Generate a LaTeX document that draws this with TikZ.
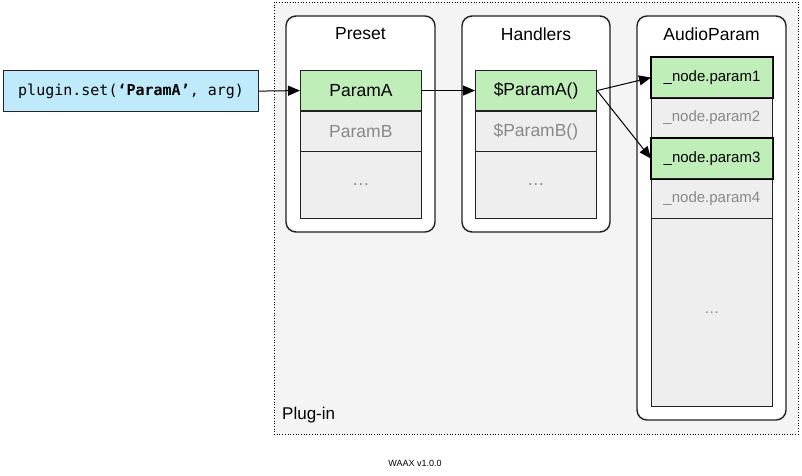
\documentclass[tikz,border=0pt]{standalone}
\usepackage{fontspec}
\setmainfont{Liberation Sans}
\newfontfamily\codefont{DejaVu Sans Mono}
\usetikzlibrary{arrows.meta}
\definecolor{plugfill}{HTML}{F4F4F4}
\definecolor{rowfill}{HTML}{EEEEEE}
\definecolor{greenfill}{HTML}{C0EEB8}
\definecolor{bluefill}{HTML}{BFEAFC}
\definecolor{graytext}{HTML}{888888}
\definecolor{linec}{HTML}{222222}
\tikzset{
  container/.style={draw=linec, line width=1.4pt, fill=white, rounded corners=10pt},
  rowbox/.style={draw=linec, line width=0.7pt, fill=rowfill, minimum width=121pt, minimum height=40pt, inner sep=0pt, font=\fontsize{17.5}{20}\selectfont, text=graytext, anchor=north west},
  activebox/.style={rowbox, fill=greenfill, line width=1.1pt, text=black},
  smallrow/.style={font=\fontsize{15}{18}\selectfont},
  title/.style={font=\fontsize{17.5}{20}\selectfont, text=black},
  conn/.style={draw=black, line width=1pt, -{Triangle[length=12pt,width=10pt]}},
}
\begin{document}
\begin{tikzpicture}[x=1pt,y=-1pt]
\useasboundingbox (0,0) rectangle (802,475);
% plug-in frame
\draw[dotted, line width=0.7pt, fill=plugfill] (274,2) rectangle (798,434);
\node[anchor=south west, inner sep=0pt, font=\fontsize{17}{20}\selectfont] (plugin) at (282,423) {Plug-in};
% containers
\draw[container] (286,16) rectangle (435,232);
\draw[container] (462,16) rectangle (610,232);
\draw[container] (637,16) rectangle (786,420);
\node[title] (tpreset) at (360.5,34) {Preset};
\node[title] (thandlers) at (536,34) {Handlers};
\node[title] (taudio) at (711.5,34) {AudioParam};
% preset rows
\node[activebox] (pA) at (300,70) {ParamA};
\node[rowbox] (pB) at (300,111) {ParamB};
\node[rowbox, minimum height=67pt] (pC) at (300,151) {\ldots};
% handler rows
\node[activebox] (hA) at (475,70) {\$ParamA()};
\node[rowbox] (hB) at (475,111) {\$ParamB()};
\node[rowbox, minimum height=67pt] (hC) at (475,151) {\ldots};
% audio param rows
\node[activebox, smallrow] (a1) at (651,57) {\_node.param1};
\node[rowbox, smallrow] (a2) at (651,97) {\_node.param2};
\node[activebox, smallrow] (a3) at (651,138) {\_node.param3};
\node[rowbox, smallrow] (a4) at (651,178) {\_node.param4};
\node[rowbox, smallrow, minimum height=188pt] (a5) at (651,218) {\ldots};
\draw[line width=1.1pt] (a1.north west) rectangle (a1.south east);
\draw[line width=1.1pt] (a3.north west) rectangle (a3.south east);
% call box
\node[draw=linec, line width=1.2pt, fill=bluefill, minimum width=255pt, minimum height=41pt, inner sep=0pt, anchor=north west, font=\codefont\fontsize{15}{18}\selectfont] (call) at (3,70) {plugin.set(\textbf{‘ParamA’}, arg)};
% connectors
\draw[conn] (call.east) -- (pA.west);
\draw[conn] (pA.east) -- (hA.west);
\draw[conn] (hA.east) -- (a1.west);
\draw[conn] (hA.east) -- (a3.west);
% footer
\node[font=\fontsize{9}{10}\selectfont] (ver) at (415,463) {WAAX v1.0.0};
\end{tikzpicture}
\end{document}
